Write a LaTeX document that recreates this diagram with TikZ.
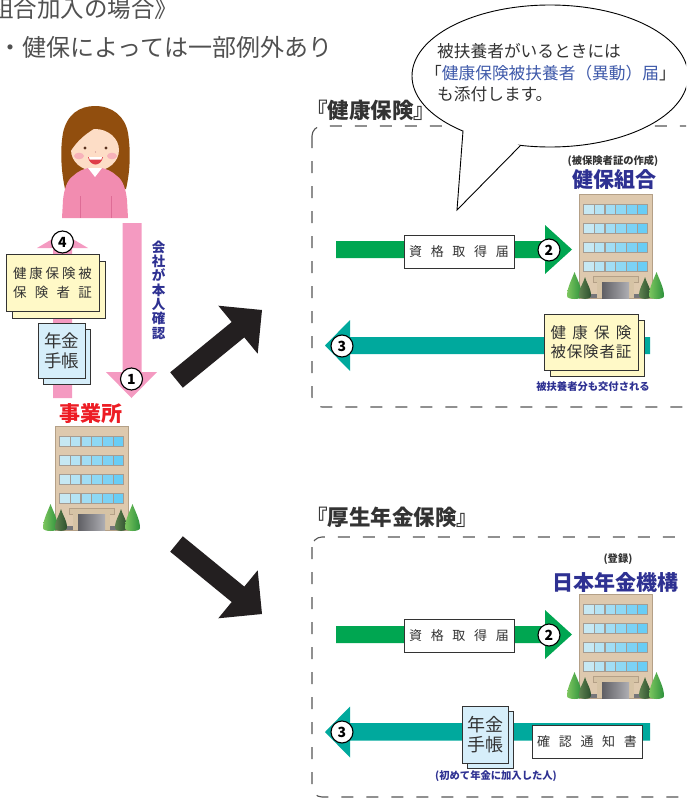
\documentclass[tikz,border=0pt]{standalone}
\usepackage{fontspec}
\setmainfont{Noto Sans CJK JP}
\usetikzlibrary{shapes.geometric}

\definecolor{ink}{RGB}{51,51,51}
\definecolor{greytext}{RGB}{80,80,80}
\definecolor{dashgrey}{RGB}{85,85,85}
\definecolor{navy}{RGB}{46,49,146}
\definecolor{bubbleblue}{RGB}{63,90,170}
\definecolor{redlabel}{RGB}{237,28,36}
\definecolor{arrowgreen}{RGB}{0,166,81}
\definecolor{arrowteal}{RGB}{0,169,157}
\definecolor{arrowpink}{RGB}{244,154,193}
\definecolor{arrowblack}{RGB}{35,31,32}
\definecolor{cardyellow}{RGB}{255,249,199}
\definecolor{cardblue}{RGB}{214,238,250}
\definecolor{bodyc}{RGB}{222,201,174}
\definecolor{bodyedge}{RGB}{180,160,135}
\definecolor{framec}{RGB}{165,156,146}
\definecolor{winlight}{RGB}{198,232,243}
\definecolor{windark}{RGB}{105,205,245}
\definecolor{canopyc}{RGB}{214,195,165}
\definecolor{basec}{RGB}{118,118,122}
\definecolor{doorleft}{RGB}{95,95,100}
\definecolor{doorright}{RGB}{175,175,180}
\definecolor{treelightA}{RGB}{125,198,95}
\definecolor{treelightB}{RGB}{45,145,60}
\definecolor{treedarkA}{RGB}{95,130,80}
\definecolor{treedarkB}{RGB}{45,80,45}
\definecolor{hairc}{RGB}{145,78,14}
\definecolor{skinc}{RGB}{253,221,198}
\definecolor{cheekc}{RGB}{247,178,186}
\definecolor{sweaterc}{RGB}{242,140,176}
\definecolor{sweaterline}{RGB}{222,108,150}
\definecolor{eyec}{RGB}{90,50,30}
\definecolor{mouthc}{RGB}{222,62,72}

% cone-shaped tree: left x, right x, top y, bottom y, shading colours
\newcommand\conetree[6]{%
  \shade[left color=#5, right color=#6]
    ({(#1+#2)/2},#3) .. controls ({#1+0.3*(#2-#1)},{#3+8}) and (#1,{#4-12}) .. (#1,{#4-4})
    .. controls (#1,#4) and (#2,#4) .. (#2,{#4-4})
    .. controls (#2,{#4-12}) and ({#2-0.3*(#2-#1)},{#3+8}) .. cycle;}

\tikzset{
  dashbox/.style={draw=dashgrey, line width=1.1pt, dash pattern=on 12pt off 13pt, rounded corners=10pt},
  numc/.style={circle, draw=black, fill=white, line width=1.1pt, minimum size=22pt, inner sep=0pt,
    font=\bfseries\fontsize{14}{14}\selectfont},
  formbox/.style={draw=ink, fill=white, line width=0.9pt, minimum width=110pt, minimum height=33pt,
    inner sep=0pt, text=ink, font=\fontsize{13}{13}\selectfont},
  cardY/.style={draw=ink, fill=cardyellow, line width=0.9pt, inner sep=0pt},
  cardB/.style={draw=ink, fill=cardblue, line width=0.9pt, inner sep=0pt},
  sectitle/.style={inner sep=0pt, text=ink, font=\bfseries\fontsize{21.5}{21.5}\selectfont},
  biglabel/.style={inner sep=0pt, font=\bfseries\fontsize{21}{21}\selectfont},
  smalllabel/.style={inner sep=0pt, font=\bfseries\fontsize{10.3}{10.3}\selectfont},
  headline/.style={anchor=west, inner sep=0pt, text=greytext},
  building/.pic={
    \fill[bodyc] (0,0) rectangle (73,104);
    \draw[bodyedge, line width=0.8pt] (0,0) rectangle (73,104);
    \fill[basec] (0.5,100) rectangle (72.5,104);
    \foreach \rowi in {0,1,2,3}{
      \fill[framec] (4,{10+19*\rowi}) rectangle (69,{21+19*\rowi});
      \foreach \coli in {0,...,5}{
        \pgfmathtruncatemacro\wmix{\coli*20}
        \fill[windark!\wmix!winlight] ({5.3+10.7*\coli},{11.3+19*\rowi}) rectangle ({14.7+10.7*\coli},{19.7+19*\rowi});
      }
    }
    \fill[canopyc] (14,82) rectangle (59,88);
    \draw[bodyedge, line width=0.6pt] (14,82) rectangle (59,88);
    \fill[canopyc] (18,88) rectangle (23,104);
    \fill[canopyc] (50,88) rectangle (55,104);
    \shade[left color=doorleft, right color=doorright] (23,88) rectangle (50,104);
    \conetree{-12}{3}{78}{106}{treelightA}{treelightB}
    \conetree{0}{12}{83}{106}{treedarkA}{treedarkB}
    \conetree{60}{72}{83}{106}{treedarkA}{treedarkB}
    \conetree{70}{85}{78}{106}{treelightA}{treelightB}
  }
}

\begin{document}
\begin{tikzpicture}[x=1pt,y=-1pt]
\useasboundingbox (0,0) rectangle (686,800);
\clip (0,0) rectangle (686,800);

% heading lines
\node[headline, font=\fontsize{23.5}{23.5}\selectfont] (head1) at (-10,8.5) {組合加入の場合》};
\node[headline, font=\fontsize{24}{24}\selectfont] (head2) at (-1.5,47.5) {・健保によっては一部例外あり};

% dashed frames of the two insurance sections
\draw[dashbox] (312,126) rectangle (720,407);
\draw[dashbox] (312,537) rectangle (720,797);
\node[sectitle, anchor=west] (sec1) at (306,110) {『健康保険』};
\node[sectitle, anchor=west] (sec2) at (306,517) {『厚生年金保険』};

% speech bubble
\node[ellipse, draw=black, line width=0.9pt, fill=white, minimum width=276pt, minimum height=142pt, inner sep=0pt] (bubble) at (550,76) {};
\coordinate (tailL) at (463,131);
\coordinate (tailTip) at (457,210);
\coordinate (tailR) at (520,146);
\fill[white] (tailL) -- (tailTip) -- (tailR) -- (495,128) -- cycle;
\draw[line width=0.9pt, line join=miter] (tailL) -- (tailTip) -- (tailR);
\node[anchor=north west, inner sep=0pt, align=left, text=ink, font=\fontsize{16.7}{21.5}\selectfont] (bubbletext) at (437,43.5)
  {被扶養者がいるときには\\\hspace*{-12pt}「\textcolor{bubbleblue}{健康保険被扶養者（異動）届}」\\も添付します。};

% ---- health insurance section ----
\fill[arrowgreen] (336,241) -- (545,241) -- (545,225) -- (572,249.5) -- (545,274) -- (545,258) -- (336,258) -- cycle;
\node[formbox] (form1) at (459,252) {資\hspace{8.7pt}格\hspace{8.7pt}取\hspace{8.7pt}得\hspace{8.7pt}届};
\node[numc] (n2a) at (549,250) {2};

\pic at (579,194) {building};
\node[smalllabel, text=ink] (note1) at (613,161) {(被保険者証の作成)};
\node[biglabel, text=navy] (kenpo) at (614,180) {健保組合};

\fill[arrowteal] (650,337) -- (350,337) -- (350,320) -- (325,345.5) -- (350,371) -- (350,354) -- (650,354) -- cycle;
\node[numc] (n3a) at (342,346) {3};
\node[cardY, minimum width=94pt, minimum height=56pt] (cardRback) at (597,348) {};
\node[cardY, minimum width=94pt, minimum height=56pt, align=center, text=ink, font=\fontsize{15.5}{19}\selectfont] (cardR) at (591,342)
  {\makebox[81pt][s]{健\hfill 康\hfill 保\hfill 険}\\\makebox[81pt][s]{被\hfill 保\hfill 険\hfill 者\hfill 証}};
\node[smalllabel, text=navy] (note2) at (593,387) {被扶養者分も交付される};

% ---- pension section ----
\fill[arrowgreen] (336,626) -- (545,626) -- (545,610) -- (572,634.5) -- (545,659) -- (545,643) -- (336,643) -- cycle;
\node[formbox] (form2) at (459,635.5) {資\hspace{8.7pt}格\hspace{8.7pt}取\hspace{8.7pt}得\hspace{8.7pt}届};
\node[numc] (n2b) at (549,635) {2};

\pic at (579,594) {building};
\node[smalllabel, text=ink] (note3) at (618,559) {(登録)};
\node[biglabel, text=navy] (nenkin) at (615,582) {日本年金機構};

\fill[arrowteal] (650,723) -- (350,723) -- (350,706.5) -- (325,732) -- (350,757.5) -- (350,740.5) -- (650,740.5) -- cycle;
\node[numc] (n3b) at (342,732) {3};
\node[cardB, minimum width=46pt, minimum height=57pt] (techoRback) at (490,739.5) {};
\node[cardB, minimum width=46pt, minimum height=57pt, align=center, text=ink, font=\fontsize{18}{20}\selectfont] (techoR) at (485,734.5) {年金\\手帳};
\node[formbox] (form3) at (587,741.5) {確\hspace{8.7pt}認\hspace{8.7pt}通\hspace{8.7pt}知\hspace{8.7pt}書};
\node[smalllabel, text=navy] (note4) at (496,776) {(初めて年金に加入した人)};

% ---- employee and workplace ----
\fill[arrowpink] (53,398) -- (53,248) -- (37,248) -- (62.5,233) -- (88,248) -- (72,248) -- (72,398) -- cycle;
\fill[arrowpink] (122.5,223) -- (122.5,372) -- (106,372) -- (131.5,398) -- (157,372) -- (141.5,372) -- (141.5,223) -- cycle;

\node[cardY, minimum width=93pt, minimum height=57pt] (cardLback) at (58.5,289.5) {};
\node[cardY, minimum width=93pt, minimum height=57pt, align=center, text=ink, font=\fontsize{13.5}{19}\selectfont] (cardL) at (52.5,282.5)
  {\makebox[79pt][s]{健\hfill 康\hfill 保\hfill 険\hfill 被}\\\makebox[79pt][s]{保\hfill 険\hfill 者\hfill 証}};
\node[cardB, minimum width=47pt, minimum height=55pt] (techoLback) at (66.5,356.5) {};
\node[cardB, minimum width=47pt, minimum height=55pt, align=center, text=ink, font=\fontsize{17.5}{20}\selectfont] (techoL) at (61.5,350.5) {年金\\手帳};

\node[numc] (n4) at (62.5,242) {4};
\node[numc] (n1) at (131.5,379) {1};
\node[inner sep=0pt, align=center, text=navy, font=\bfseries\fontsize{13.5}{14.3}\selectfont] (confirm) at (158.5,290)
  {会\\社\\が\\本\\人\\確\\認};

\node[biglabel, text=redlabel] (office) at (91,414) {事業所};
\pic at (55,426) {building};

% block arrows towards the two sections
\fill[arrowblack] (170.2,372.3) -- (231.7,322.0) -- (218.3,305.7) -- (262,310) -- (257.7,353.7) -- (244.3,337.4) -- (182.8,387.7) -- cycle;
\fill[arrowblack] (170.2,551.7) -- (231.7,602.0) -- (218.3,618.3) -- (262,614) -- (257.7,570.3) -- (244.3,586.6) -- (182.8,536.3) -- cycle;

% ---- the employee ----
\fill[hairc] (65,189) .. controls (61,170) and (60,150) .. (63,133) .. controls (67,114) and (80,106) .. (95,106)
  .. controls (112,106) and (125,116) .. (128,133) .. controls (131,152) and (130,172) .. (126,189) -- cycle;
\fill[skinc] (89,160) rectangle (101,171);
\fill[skinc] (95,150) ellipse [x radius=24, y radius=21];
\fill[hairc] (70,152) -- (69,134) .. controls (72,118) and (84,112) .. (96,112) .. controls (110,112) and (121,120) .. (123,134)
  -- (123,146) .. controls (120,134) and (113,126) .. (105,123) .. controls (92,129) and (80,137) .. (72,149) -- cycle;
\fill[sweaterc] (73,176) .. controls (78,171) and (84,169) .. (88,168) -- (102,168) .. controls (106,169) and (112,171) .. (117,176)
  .. controls (123,180) and (126,190) .. (127,200) -- (128,218) -- (62,218) -- (63,200) .. controls (64,190) and (67,180) .. (73,176) -- cycle;
\fill[white] (88,168) -- (102,168) -- (95,177) -- cycle;
\draw[sweaterline, line width=0.7pt] (80,196) -- (80,218);
\draw[sweaterline, line width=0.7pt] (111,196) -- (111,218);
\fill[cheekc] (79,156) ellipse [x radius=5, y radius=3.3];
\fill[cheekc] (112,156) ellipse [x radius=5, y radius=3.3];
\fill[eyec] (85,148) circle [radius=1.6];
\fill[eyec] (106,148) circle [radius=1.6];
\fill[cheekc!70!eyec] (95.5,152) circle [radius=0.7];
\fill[mouthc] (88,157) .. controls (90,167) and (101,167) .. (103,157) -- cycle;
\fill[white] (89,157) -- (102,157) -- (101.4,159.5) -- (89.6,159.5) -- cycle;
\end{tikzpicture}
\end{document}
